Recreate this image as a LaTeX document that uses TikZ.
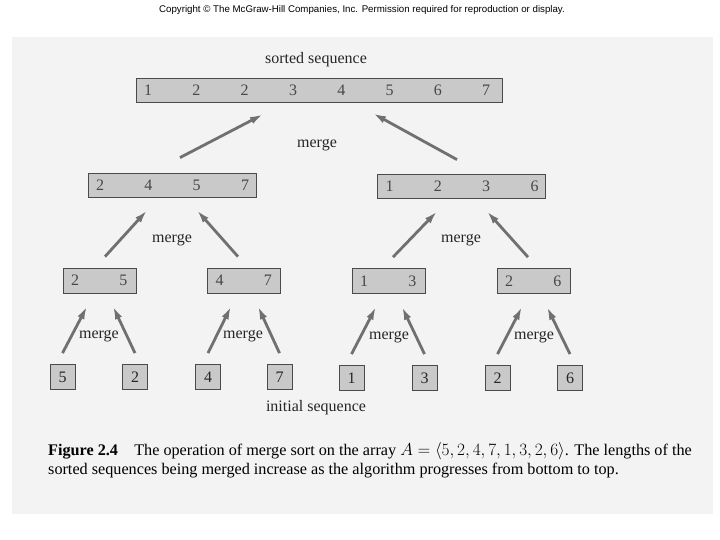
\documentclass[tikz,border=0pt]{standalone}
\usepackage{fontspec}
\setmainfont{Liberation Serif}
\newfontfamily\copyfont{Liberation Sans}
\usetikzlibrary{arrows.meta,positioning}

\definecolor{panel}{HTML}{F3F3F3}
\definecolor{cellgray}{HTML}{C9C9C9}
\definecolor{edgegray}{HTML}{4A4A4A}
\definecolor{arrowgray}{HTML}{707070}
\definecolor{inkgray}{HTML}{262626}

% digits spread across a sequence box
\newcommand{\seqdigits}[2]{%
  \foreach \v [count=\i] in {#2}
    \node[digit] (#1-\i) at ([xshift={12.5pt+(\i-1)*48.3pt}]#1.west) {\v};%
}

\begin{document}
\begin{tikzpicture}[
    x=1pt, y=-1pt,
    every node/.style={text=inkgray, font=\fontsize{16}{18}\selectfont},
    seq/.style={draw=edgegray, line width=0.8pt, fill=cellgray, minimum height=24pt, inner sep=0pt},
    leaf/.style={seq, minimum width=25pt, minimum height=25pt},
    digit/.style={inner sep=0pt, text=inkgray!85},
    flow/.style={-{Latex[length=13pt,width=7.5pt]}, draw=arrowgray, line width=2.8pt},
    tag/.style={inner sep=0pt}
]
\useasboundingbox (0,0) rectangle (720,540);
\fill[panel] (12,37) rectangle (713,514);
\node[tag, font=\copyfont\fontsize{9.7}{11}\selectfont, text=black] (copy) at (362,10)
  {Copyright \textcopyright\ The McGraw-Hill Companies, Inc. Permission required for reproduction or display.};

% sequences, top to bottom
\node[seq, minimum width=366pt] (top) at (319,90) {};
\seqdigits{top}{1,2,2,3,4,5,6,7}
\node[seq, minimum width=168pt] (left) at (172,185) {};
\seqdigits{left}{2,4,5,7}
\node[seq, minimum width=168pt] (right) at (461.5,186) {};
\seqdigits{right}{1,2,3,6}
\node[seq, minimum width=73pt, minimum height=25pt] (b25) at (99.5,280.5) {};
\seqdigits{b25}{2,5}
\node[seq, minimum width=73pt, minimum height=25pt] (b47) at (244,280.5) {};
\seqdigits{b47}{4,7}
\node[seq, minimum width=73pt, minimum height=25pt] (b13) at (388.5,281) {};
\seqdigits{b13}{1,3}
\node[seq, minimum width=73pt, minimum height=25pt] (b26) at (533.5,281) {};
\seqdigits{b26}{2,6}
\node[leaf] (l1) at (62.5,377) {5};
\node[leaf] (l2) at (135,377) {2};
\node[leaf] (l3) at (208,377) {4};
\node[leaf] (l4) at (279.5,377) {7};
\node[leaf] (l5) at (351.5,378) {1};
\node[leaf] (l6) at (424.5,378) {3};
\node[leaf] (l7) at (497.5,378) {2};
\node[leaf] (l8) at (570,378) {6};

% labels
\node[tag] (sorted) at (316,60) {sorted sequence};
\node[tag] (m0) at (317,145) {merge};
\node[tag] (m1) at (172,240) {merge};
\node[tag] (m2) at (461,240) {merge};
\node[tag] (m3) at (99,336) {merge};
\node[tag] (m4) at (243,336) {merge};
\node[tag] (m5) at (389,337) {merge};
\node[tag] (m6) at (534,337) {merge};
\node[tag] (initial) at (316,408) {initial sequence};

% merges
\draw[flow] ([yshift=11pt]l1.north) -- ([xshift=-12.5pt,yshift=-13pt]b25.south);
\draw[flow] ([yshift=11pt]l2.north) -- ([xshift=13.5pt,yshift=-13pt]b25.south);
\draw[flow] ([yshift=11pt]l3.north) -- ([xshift=-13pt,yshift=-13pt]b47.south);
\draw[flow] ([yshift=11pt]l4.north) -- ([xshift=14pt,yshift=-13pt]b47.south);
\draw[flow] ([yshift=11pt]l5.north) -- ([xshift=-12.5pt,yshift=-13pt]b13.south);
\draw[flow] ([yshift=11pt]l6.north) -- ([xshift=13.5pt,yshift=-13pt]b13.south);
\draw[flow] ([yshift=11pt]l7.north) -- ([xshift=-11.5pt,yshift=-13pt]b26.south);
\draw[flow] ([yshift=11pt]l8.north) -- ([xshift=13.5pt,yshift=-13pt]b26.south);
\draw[flow] ([xshift=5.5pt,yshift=11pt]b25.north) -- ([xshift=-25pt,yshift=-13pt]left.south);
\draw[flow] ([xshift=-6pt,yshift=11pt]b47.north) -- ([xshift=25pt,yshift=-13pt]left.south);
\draw[flow] ([xshift=4.5pt,yshift=11pt]b13.north) -- ([xshift=-24.5pt,yshift=-13pt]right.south);
\draw[flow] ([xshift=-5.5pt,yshift=11pt]b26.north) -- ([xshift=25.5pt,yshift=-13pt]right.south);
\draw[flow] ([xshift=8pt,yshift=15pt]left.north) -- ([xshift=-56pt,yshift=-12pt]top.south);
\draw[flow] ([xshift=-4.5pt,yshift=14pt]right.north) -- ([xshift=54pt,yshift=-11pt]top.south);

% caption
\node[tag, anchor=base west, align=left, font=\fontsize{16.2}{18.5}\selectfont, text=black] (caption) at (48,474)
  {\textbf{Figure 2.4}\quad The operation of merge sort on the array $A=\langle 5,2,4,7,1,3,2,6\rangle$. The lengths of the\\
   sorted sequences being merged increase as the algorithm progresses from bottom to top.};
\end{tikzpicture}
\end{document}
